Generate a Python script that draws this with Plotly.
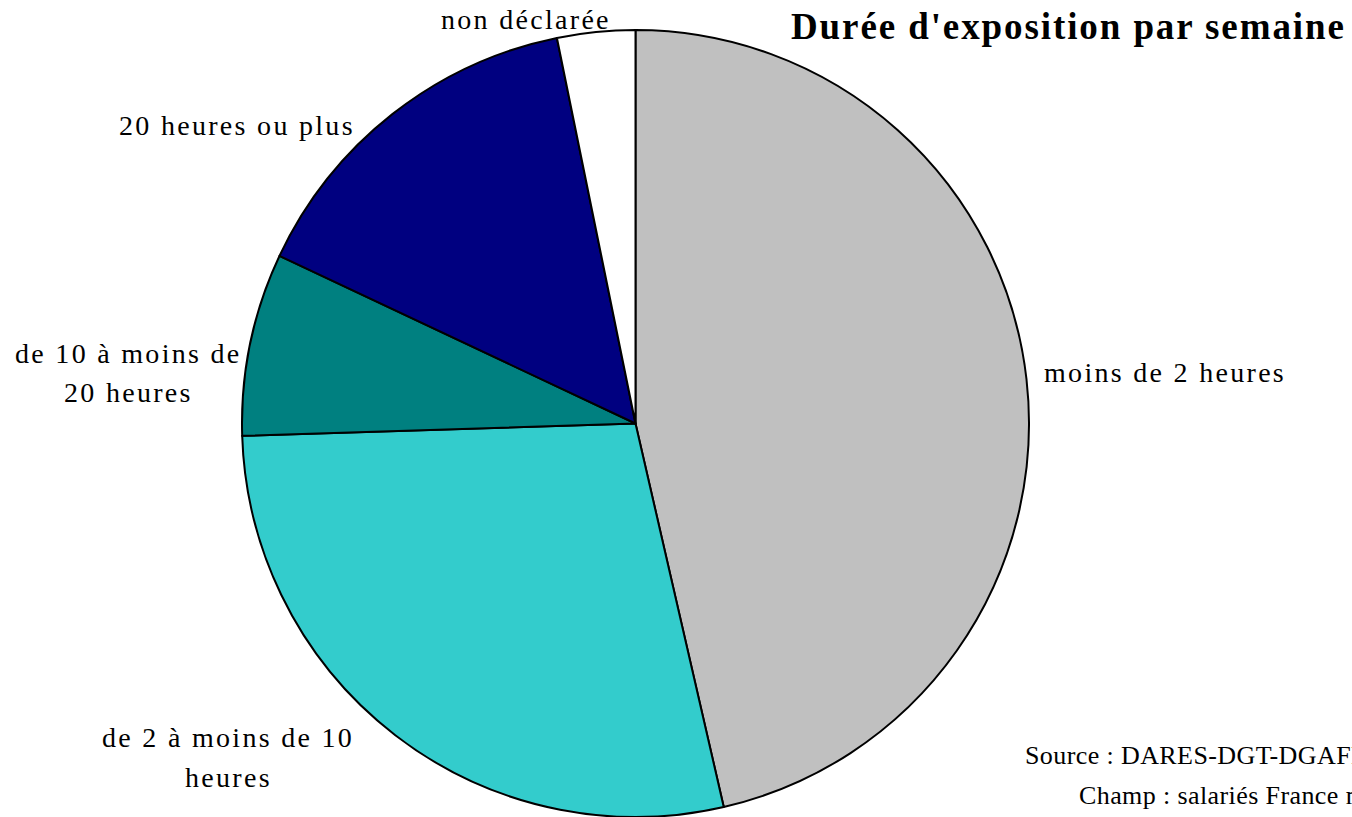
import plotly.graph_objects as go

# ---- data ----
categories = ["moins de 2 heures", "de 2 à moins de 10 heures",
              "de 10 à moins de 20 heures", "20 heures ou plus", "non déclarée"]
shares = [46.4, 28.1, 7.5, 14.8, 3.2]
colors = ["#C0C0C0", "#33CCCC", "#008080", "#000080", "#FFFFFF"]
label_lines = [["moins de 2 heures"],
               ["de 2 à moins de 10", "heures"],
               ["de 10 à moins de", "20 heures"],
               ["20 heures ou plus"],
               ["non déclarée"]]
title_text = "Durée d'exposition par semaine"
source_lines = ["Source : DARES-DGT-DGAFP, enquête Sumer 2010",
                "Champ : salariés France métropolitaine et Réunion"]

W, H = 1352, 817
FONT = "Liberation Serif, Times New Roman, serif"


def px(x):
    return x / W


def py(y):
    return 1 - y / H


def sp(text, ls):
    return f'<span style="letter-spacing:{ls}px">{text}</span>'


fig = go.Figure(go.Pie(
    labels=categories, values=shares, sort=False, direction="clockwise",
    rotation=0, textinfo="none", hoverinfo="label+percent",
    marker=dict(colors=colors, line=dict(color="#000000", width=2)),
    domain=dict(x=[px(241), px(1030)], y=[0, py(30)]),
    showlegend=False,
))

# label placement (pixel centres)
label_pos = [[(1165, 373)],
             [(228, 737), (228, 777)],
             [(128, 353), (128, 392)],
             [(237, 125)],
             [(526, 20)]]

anns = []
for lines, poss in zip(label_lines, label_pos):
    for t, (x, y) in zip(lines, poss):
        anns.append(dict(text=sp(t, 2.3), x=px(x), y=py(y), xref="paper", yref="paper",
                         xanchor="center", yanchor="middle", showarrow=False,
                         font=dict(family=FONT, size=28, color="#000000")))

anns.append(dict(text=sp(f"<b>{title_text}</b>", 1.9), x=px(1068), y=py(26), xref="paper", yref="paper",
                 xanchor="center", yanchor="middle", showarrow=False,
                 font=dict(family=FONT, size=37, color="#000000")))

for t, (x, y) in zip(source_lines, [(1023, 755), (1077, 795)]):
    anns.append(dict(text=sp(t, 0.4), x=px(x), y=py(y), xref="paper", yref="paper",
                     xanchor="left", yanchor="middle", showarrow=False,
                     font=dict(family=FONT, size=26, color="#000000")))

fig.update_layout(width=W, height=H, margin=dict(l=0, r=0, t=0, b=0),
                  paper_bgcolor="#FFFFFF", plot_bgcolor="#FFFFFF",
                  annotations=anns)

fig.write_html("out.html", config={"displayModeBar": False},
               post_script="document.body.style.margin='0';document.body.style.overflow='hidden';")
